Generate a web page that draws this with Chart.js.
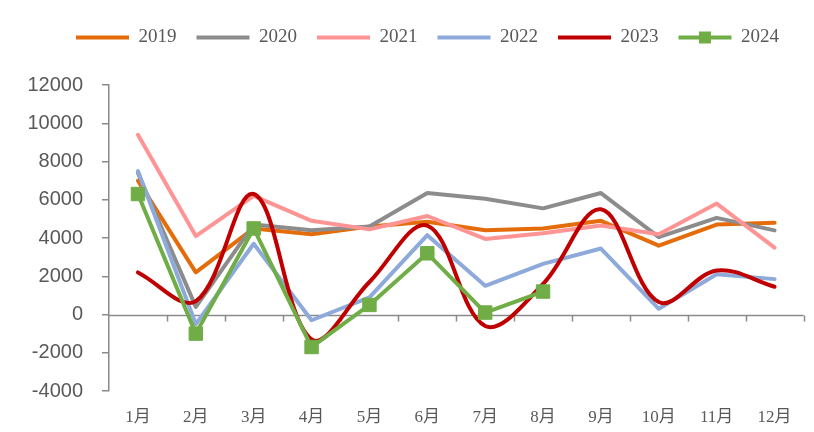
<!DOCTYPE html>
<html>
<head>
<meta charset="utf-8">
<script src="https://cdn.jsdelivr.net/npm/chart.js@4.4.1/dist/chart.umd.min.js"></script>
<style>
  html, body { margin: 0; padding: 0; background: #ffffff; }
  #wrap { width: 814px; height: 432px; }
</style>
</head>
<body>
<div id="wrap"><canvas id="chart" width="814" height="432"></canvas></div>
<script>
// Monthly values by year
const months = ['1月', '2月', '3月', '4月', '5月', '6月', '7月', '8月', '9月', '10月', '11月', '12月'];
const yearLabels = ['2019', '2020', '2021', '2022', '2023', '2024'];
const yTicks = [-4000, -2000, 0, 2000, 4000, 6000, 8000, 10000, 12000];

const values2019 = [7000, 2200, 4500, 4200, 4600, 4850, 4400, 4500, 4900, 3600, 4700, 4800];
const values2020 = [7400, 400, 4700, 4400, 4600, 6350, 6050, 5550, 6350, 4050, 5050, 4400];
const values2021 = [9400, 4100, 6200, 4900, 4450, 5150, 3950, 4250, 4650, 4200, 5800, 3500];
const values2022 = [7500, -500, 3700, -300, 900, 4150, 1500, 2650, 3450, 300, 2100, 1850];
const values2023 = [2200, 700, 6300, -1300, 1700, 4650, -600, 1600, 5500, 650, 2300, 1450];
const values2024 = [6300, -1000, 4500, -1700, 500, 3200, 100, 1200];

const seriesValues = [values2019, values2020, values2021, values2022, values2023, values2024];

// Styling
const lineColors = ['#E46C0A', '#8C8C8C', '#FF9494', '#8EAADB', '#C00000', '#70AD47'];
const axisGrey = '#8A8A8A';
const textGrey = '#595959';
const LEGEND_BOX_W = 53;
const LEGEND_FONT = 19;

const datasets = seriesValues.map((vals, i) => {
  const isSmooth = i === 4;
  const hasMarkers = i === 5;
  return {
    label: yearLabels[i],
    data: vals,
    borderColor: lineColors[i],
    backgroundColor: lineColors[i],
    borderWidth: 4,
    borderJoinStyle: 'round',
    borderCapStyle: 'round',
    tension: isSmooth ? 0.36 : 0,
    pointRadius: hasMarkers ? 9.5 : 0,
    pointStyle: 'rect',
    pointBackgroundColor: lineColors[i],
    pointBorderColor: lineColors[i],
    pointBorderWidth: 1,
    fill: false,
    order: 5 - i
  };
});

// Zero line with small category boundary ticks, drawn beneath the series
const zeroAxisPlugin = {
  id: 'zeroAxis',
  beforeDatasetsDraw(chart) {
    const { ctx, chartArea, scales } = chart;
    const x = scales.x, y = scales.y;
    const y0 = Math.round(y.getPixelForValue(0)) + 0.5;
    ctx.save();
    ctx.strokeStyle = axisGrey;
    ctx.lineWidth = 1.5;
    ctx.beginPath();
    ctx.moveTo(chartArea.left, y0);
    ctx.lineTo(chartArea.right, y0);
    const n = months.length;
    for (let k = 1; k <= n; k++) {
      const px = k < n ? (x.getPixelForValue(k - 1) + x.getPixelForValue(k)) / 2 : chartArea.right;
      const rx = Math.round(px) + 0.5;
      ctx.moveTo(rx, y0);
      ctx.lineTo(rx, y0 + 6);
    }
    ctx.stroke();
    ctx.restore();
  }
};

// Legend band: fixed height, centred over the band 44..811, plus the 2024 square marker
const legendPlugin = {
  id: 'legendExtras',
  beforeLayout(chart) {
    const lg = chart.legend;
    if (lg && !lg._bandPatched) {
      const fit = lg.fit;
      lg.fit = function () {
        fit.call(this);
        this.height = 77;
      };
      lg._bandPatched = true;
    }
  },
  afterLayout(chart) {
    const lg = chart.legend;
    if (!lg) return;
    lg.left = 44;
    lg.right = 811;
    lg.width = lg.right - lg.left;
  },
  afterDraw(chart) {
    const lg = chart.legend;
    if (!lg || !lg.legendHitBoxes) return;
    const hb = lg.legendHitBoxes[5];
    if (!hb) return;
    const cx = hb.left + LEGEND_BOX_W / 2;
    const cy = hb.top + LEGEND_FONT / 2;
    const s = 12;
    const { ctx } = chart;
    ctx.save();
    ctx.fillStyle = lineColors[5];
    ctx.fillRect(cx - s / 2, cy - s / 2, s, s);
    ctx.restore();
  }
};

new Chart(document.getElementById('chart'), {
  type: 'line',
  data: { labels: months, datasets },
  options: {
    responsive: false,
    animation: false,
    devicePixelRatio: 1,
    layout: { padding: { top: 8, left: 0, right: 3, bottom: 0 } },
    plugins: {
      tooltip: { enabled: false },
      legend: {
        display: true,
        position: 'top',
        align: 'center',
        labels: {
          boxWidth: LEGEND_BOX_W,
          boxHeight: 4,
          padding: 20,
          color: textGrey,
          font: { family: '"Liberation Serif", "Times New Roman", serif', size: LEGEND_FONT },
          generateLabels: (chart) => chart.data.datasets.map((ds, i) => ({
            text: ds.label,
            fillStyle: ds.borderColor,
            strokeStyle: ds.borderColor,
            lineWidth: 0,
            hidden: false,
            datasetIndex: i,
            fontColor: textGrey
          }))
        }
      }
    },
    scales: {
      x: {
        type: 'category',
        offset: true,
        afterFit: (scale) => { scale.height = 41; },
        grid: { display: false },
        border: { display: false },
        ticks: {
          color: textGrey,
          padding: 8,
          maxRotation: 0,
          autoSkip: false,
          font: { family: '"Liberation Serif", "Noto Sans CJK SC", serif', size: 17 }
        }
      },
      y: {
        min: -4000,
        max: 12000,
        afterBuildTicks: (scale) => { scale.ticks = yTicks.map(v => ({ value: v })); },
        afterFit: (scale) => { scale.width = 109; },
        grid: {
          drawOnChartArea: false,
          drawTicks: true,
          tickLength: 7,
          color: axisGrey,
          lineWidth: 1.5
        },
        border: { display: true, color: axisGrey, width: 1.5 },
        ticks: {
          color: textGrey,
          padding: 19,
          callback: (v) => String(v),
          font: { family: '"Liberation Sans", Arial, sans-serif', size: 20 }
        }
      }
    }
  },
  plugins: [zeroAxisPlugin, legendPlugin]
});
</script>
</body>
</html>
